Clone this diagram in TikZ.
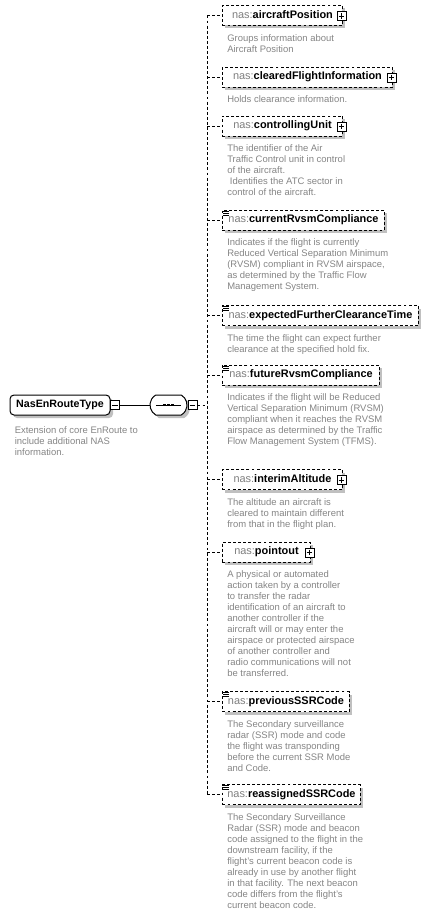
\documentclass[tikz,border=0pt]{standalone}
\usepackage{fontspec}
\setmainfont{Liberation Sans}
\usepackage{tikz}
\usetikzlibrary{positioning,shadows,shapes.misc}
\definecolor{xsdGrayShadow}{HTML}{C0C0C0}
\definecolor{xsdPrefix}{HTML}{7F7F7F}
\definecolor{xsdDocText}{HTML}{858585}
\newcommand{\nasPrefix}{\textcolor{xsdPrefix}{nas:}}
\tikzset{
  xsdDrop/.style={
    drop shadow={shadow xshift=2.25pt, shadow yshift=-2.25pt, fill=xsdGrayShadow, opacity=1}
  },
  xsdType/.style={
    draw,
    line width=0.75pt,
    rounded corners=3pt,
    fill=white,
    xsdDrop,
    minimum width=75pt,
    minimum height=15pt,
    inner ysep=0pt,
    font=\bfseries\fontsize{8}{10}\selectfont,
    text height=6pt,
    text depth=1.6pt
  },
  xsdSeq/.style={
    rounded rectangle,
    rounded rectangle arc length=120,
    draw,
    line width=0.75pt,
    fill=white,
    xsdDrop,
    minimum width=27.75pt,
    minimum height=15pt,
    inner sep=0pt
  },
  xsdElem/.style={
    draw,
    dash pattern=on 2.2pt off 1.6pt,
    line width=0.7pt,
    fill=white,
    xsdDrop,
    anchor=west,
    minimum height=15pt,
    inner ysep=0pt,
    inner xsep=3pt,
    font=\fontsize{8.2}{10}\selectfont,
    text height=6pt,
    text depth=1.6pt
  },
  xsdBtn/.style={
    draw,
    fill=white,
    line width=0.6pt,
    minimum size=6.8pt,
    inner sep=0pt
  },
  xsdMinus/.style={
    xsdBtn,
    path picture={\draw[line width=0.6pt] ([xshift=1.3pt]path picture bounding box.west) -- ([xshift=-1.3pt]path picture bounding box.east);}
  },
  xsdPlus/.style={
    xsdBtn,
    path picture={\draw[line width=0.6pt] ([xshift=1.3pt]path picture bounding box.west) -- ([xshift=-1.3pt]path picture bounding box.east)
      ([yshift=-1.3pt]path picture bounding box.north) -- ([yshift=1.3pt]path picture bounding box.south);}
  },
  xsdDoc/.style={
    anchor=north west,
    align=left,
    inner sep=0pt,
    text=xsdDocText,
    font=\fontsize{7.1}{8.25}\selectfont
  },
  xsdLink/.style={
    line width=0.7pt
  },
  xsdDash/.style={
    line width=0.7pt,
    dash pattern=on 2.2pt off 1.6pt
  }
}

\begin{document}
\begin{tikzpicture}[x=0.75pt, y=-0.75pt]
  \useasboundingbox (0,0) rectangle (432,916);

  \node[xsdType] (type) at (60,405) {NasEnRouteType};
  \node[xsdMinus] (typeMinus) at ([xshift=3.4pt]type.east) {};
  \node[below=8.25pt of type.south west, xsdDoc, xshift=3.75pt] (typeDoc) {Extension of core EnRoute to\\include additional NAS\\information.};

  \node[xsdSeq] (seq) at (168.5,405) {};
  \node[xsdMinus] (seqMinus) at ([xshift=3.75pt]seq.east) {};
  \draw[xsdLink] ([xshift=-9.4pt]seq.center) -- ([xshift=9.4pt]seq.center);
  \foreach \dx in {-3pt,0pt,3pt}
    \fill ([xshift=\dx]seq.center) +(-1.1pt,-1.1pt) rectangle +(1.1pt,1.1pt);

  \coordinate (bus) at (207,405);

  \node[xsdElem, minimum width=90pt] (aircraftPos) at (222,15.5) {\nasPrefix\textbf{aircraftPosition}};
  \node[xsdElem, minimum width=127.5pt] (clearedInfo) at (222,77) {\nasPrefix\textbf{clearedFlightInformation}};
  \node[xsdElem, minimum width=90pt] (ctrlUnit) at (222,126) {\nasPrefix\textbf{controllingUnit}};
  \node[xsdElem, minimum width=121.5pt] (curRvsm) at (222,220) {\nasPrefix\textbf{currentRvsmCompliance}};
  \node[xsdElem, minimum width=147pt] (efcTime) at (222,315.5) {\nasPrefix\textbf{expectedFurtherClearanceTime}};
  \node[xsdElem, minimum width=117.75pt] (futRvsm) at (222,375) {\nasPrefix\textbf{futureRvsmCompliance}};
  \node[xsdElem, minimum width=90pt] (interimAlt) at (222,479.5) {\nasPrefix\textbf{interimAltitude}};
  \node[xsdElem, minimum width=66pt] (pointout) at (222,552) {\nasPrefix\textbf{pointout}};
  \node[xsdElem, minimum width=95.25pt] (prevSSR) at (222,701.5) {\nasPrefix\textbf{previousSSRCode}};
  \node[xsdElem, minimum width=103.5pt] (reassignSSR) at (222,794.5) {\nasPrefix\textbf{reassignedSSRCode}};

  \foreach \n in {aircraftPos,clearedInfo,ctrlUnit,interimAlt,pointout}
    \node[xsdPlus] (\n Plus) at ([xshift=-1.1pt,yshift=-0.4pt]\n.east) {};
  \foreach \n in {curRvsm,efcTime,futRvsm,prevSSR,reassignSSR}
    \foreach \dy in {1.1pt,2.6pt,4.1pt}
      \draw[line width=0.5pt] ([xshift=1.1pt,yshift=-\dy]\n.north west) -- ++(3.8pt,0pt);

  \node[below=6pt of aircraftPos.south west, xsdDoc, xshift=3.75pt] (aircraftPosDoc) {Groups information about\\Aircraft Position};
  \node[below=6pt of clearedInfo.south west, xsdDoc, xshift=3.75pt] (clearedInfoDoc) {Holds clearance information.};
  \node[below=6pt of ctrlUnit.south west, xsdDoc, xshift=3.75pt] (ctrlUnitDoc) {The identifier of the Air\\Traffic Control unit in control\\of the aircraft.\\~Identifies the ATC sector in\\control of the aircraft.};
  \node[below=6pt of curRvsm.south west, xsdDoc, xshift=3.75pt] (curRvsmDoc) {Indicates if the flight is currently\\Reduced Vertical Separation Minimum\\(RVSM) compliant in RVSM airspace,\\as determined by the Traffic Flow\\Management System.};
  \node[below=6pt of efcTime.south west, xsdDoc, xshift=3.75pt] (efcTimeDoc) {The time the flight can expect further\\clearance at the specified hold fix.};
  \node[below=6pt of futRvsm.south west, xsdDoc, xshift=3.75pt] (futRvsmDoc) {Indicates if the flight will be Reduced\\Vertical Separation Minimum (RVSM)\\compliant when it reaches the RVSM\\airspace as determined by the Traffic\\Flow Management System (TFMS).};
  \node[below=6pt of interimAlt.south west, xsdDoc, xshift=3.75pt] (interimAltDoc) {The altitude an aircraft is\\cleared to maintain different\\from that in the flight plan.};
  \node[below=6pt of pointout.south west, xsdDoc, xshift=3.75pt] (pointoutDoc) {A physical or automated\\action taken by a controller\\to transfer the radar\\identification of an aircraft to\\another controller if the\\aircraft will or may enter the\\airspace or protected airspace\\of another controller and\\radio communications will not\\be transferred.};
  \node[below=6pt of prevSSR.south west, xsdDoc, xshift=3.75pt] (prevSSRDoc) {The Secondary surveillance\\radar (SSR) mode and code\\the flight was transponding\\before the current SSR Mode\\and Code.};
  \node[below=6pt of reassignSSR.south west, xsdDoc, xshift=3.75pt] (reassignSSRDoc) {The Secondary Surveillance\\Radar (SSR) mode and beacon\\code assigned to the flight in the\\downstream facility, if the\\flight's current beacon code is\\already in use by another flight\\in that facility. The next beacon\\code differs from the flight's\\current beacon code.};

  \draw[xsdLink] (typeMinus.east) -- (seq.west);
  \draw[xsdDash] (seqMinus.east) -- (bus);
  \draw[xsdDash] (bus |- aircraftPos.west) -- (bus |- reassignSSR.west);
  \foreach \n in {aircraftPos,clearedInfo,ctrlUnit,curRvsm,efcTime,futRvsm,interimAlt,pointout,prevSSR,reassignSSR}
    \draw[xsdDash] (bus |- \n.west) -- (\n.west);
\end{tikzpicture}
\end{document}
